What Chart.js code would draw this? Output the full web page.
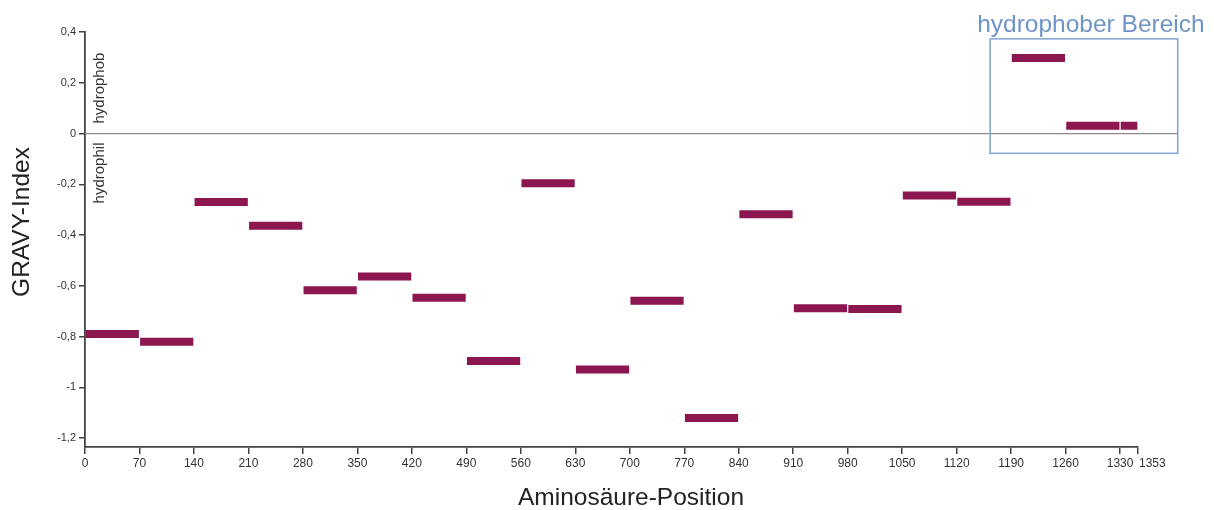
<!DOCTYPE html>
<html>
<head>
<meta charset="utf-8">
<script src="https://cdn.jsdelivr.net/npm/chart.js@4/dist/chart.umd.min.js"></script>
<style>
  body { margin: 0; background: #fff; }
  #wrap { width: 1214px; height: 510px; }
</style>
</head>
<body>
<div id="wrap"><canvas id="gravyChart"></canvas></div>
<script>
// GRAVY-Index je Abschnitt der Sequenz
const segStart = [0, 70, 140, 210, 280, 350, 420, 490, 560, 630, 700, 770, 840, 910, 980, 1050, 1120, 1190, 1260, 1330];
const segEnd   = [70, 140, 210, 280, 350, 420, 490, 560, 630, 700, 770, 840, 910, 980, 1050, 1120, 1190, 1260, 1330, 1353];
const gravy    = [-0.79, -0.82, -0.27, -0.363, -0.617, -0.563, -0.647, -0.896, -0.196, -0.93,
                  -0.659, -1.121, -0.318, -0.688, -0.691, -0.244, -0.269, 0.298, 0.031, 0.031];

const xTicks = [0, 70, 140, 210, 280, 350, 420, 490, 560, 630, 700, 770, 840, 910, 980, 1050, 1120, 1190, 1260, 1330, 1353];
const yTicks = [0.4, 0.2, 0, -0.2, -0.4, -0.6, -0.8, -1, -1.2];

// hydrophober Bereich (Rahmen in Datenkoordinaten)
const boxX = [1163, 1404];
const boxY = [-0.078, 0.373];

const barColor = '#8c1650';
const axisColor = '#444';
const boxColor = '#7fa3cf';
const font = '"Liberation Sans", Arial, sans-serif';
const lastTick = xTicks[xTicks.length - 1];

// Segmente als Linienstücke mit Lücken dazwischen
const points = [];
segStart.forEach((s, i) => {
    points.push({ x: s + 0.8, y: gravy[i] });
    points.push({ x: segEnd[i] - 0.8, y: gravy[i] });
    points.push({ x: segEnd[i], y: null });
});

const extras = {
    id: 'extras',
    beforeDatasetsDraw(chart) {
        const { ctx, scales: { x, y }, chartArea } = chart;
        const y0 = y.getPixelForValue(0);
        ctx.save();
        ctx.strokeStyle = '#8a8a8a';
        ctx.lineWidth = 1.2;
        ctx.beginPath();
        ctx.moveTo(chartArea.left, y0);
        ctx.lineTo(x.getPixelForValue(boxX[1]), y0);
        ctx.stroke();
        ctx.restore();
    },
    afterDraw(chart) {
        const { ctx, scales: { x, y }, chartArea } = chart;
        const y0 = y.getPixelForValue(0);
        ctx.save();

        // letzte Tick-Beschriftung rechts neben dem Tick
        ctx.fillStyle = '#333';
        ctx.font = '12px ' + font;
        ctx.textAlign = 'left';
        ctx.textBaseline = 'top';
        ctx.fillText(String(lastTick), x.getPixelForValue(lastTick) + 1, x.top + 11);

        // Rahmen + Beschriftung
        const bx1 = x.getPixelForValue(boxX[0]), bx2 = x.getPixelForValue(boxX[1]);
        const by1 = y.getPixelForValue(boxY[1]), by2 = y.getPixelForValue(boxY[0]);
        ctx.strokeStyle = boxColor;
        ctx.lineWidth = 1.5;
        ctx.strokeRect(bx1, by1, bx2 - bx1, by2 - by1);
        ctx.fillStyle = '#6f94c6';
        ctx.font = '24.5px ' + font;
        ctx.textAlign = 'center';
        ctx.textBaseline = 'alphabetic';
        ctx.fillText('hydrophober Bereich', (bx1 + bx2) / 2 + 7, by1 - 7);

        // hydrophob / hydrophil
        ctx.fillStyle = '#333';
        ctx.font = '15px ' + font;
        ctx.textBaseline = 'middle';
        ctx.save();
        ctx.translate(chartArea.left + 15, y0 - 10);
        ctx.rotate(-Math.PI / 2);
        ctx.textAlign = 'left';
        ctx.fillText('hydrophob', 0, 0);
        ctx.restore();
        ctx.save();
        ctx.translate(chartArea.left + 15, y0 + 9);
        ctx.rotate(-Math.PI / 2);
        ctx.textAlign = 'right';
        ctx.fillText('hydrophil', 0, 0);
        ctx.restore();

        // Achsentitel
        ctx.fillStyle = '#222';
        ctx.font = '24.5px ' + font;
        ctx.textAlign = 'center';
        ctx.fillText('Aminosäure-Position', 631, 498);
        ctx.save();
        ctx.translate(22, 222);
        ctx.rotate(-Math.PI / 2);
        ctx.fillText('GRAVY-Index', 0, 0);
        ctx.restore();

        ctx.restore();
    }
};

new Chart(document.getElementById('gravyChart'), {
    type: 'line',
    data: {
        datasets: [{
            data: points,
            borderColor: barColor,
            borderWidth: 8,
            borderCapStyle: 'butt',
            pointRadius: 0,
            spanGaps: false,
            tension: 0
        }]
    },
    options: {
        responsive: true,
        maintainAspectRatio: false,
        animation: false,
        layout: { padding: { top: 32, right: 76, left: 0, bottom: 0 } },
        plugins: { legend: { display: false }, tooltip: { enabled: false } },
        scales: {
            x: {
                type: 'linear',
                min: 0,
                max: 1353,
                afterFit: (s) => { s.height = 63; },
                afterBuildTicks: (s) => { s.ticks = xTicks.map(v => ({ value: v })); },
                ticks: {
                    autoSkip: false,
                    maxRotation: 0,
                    padding: 2,
                    color: '#333',
                    font: { family: font, size: 12 },
                    callback: (v) => v === lastTick ? '' : String(v)
                },
                grid: { drawOnChartArea: false, tickLength: 7, color: axisColor, lineWidth: 1.5 },
                border: { display: true, color: axisColor, width: 1.8 }
            },
            y: {
                min: -1.235,
                max: 0.4,
                afterFit: (s) => { s.width = 85; },
                afterBuildTicks: (s) => { s.ticks = yTicks.map(v => ({ value: v })); },
                ticks: {
                    padding: 3,
                    color: '#333',
                    font: { family: font, size: 11 },
                    callback: (v) => String(Math.round(v * 10) / 10).replace('.', ',')
                },
                grid: { drawOnChartArea: false, tickLength: 6, color: axisColor, lineWidth: 1.5 },
                border: { display: true, color: axisColor, width: 1.8 }
            }
        }
    },
    plugins: [extras]
});
</script>
</body>
</html>
